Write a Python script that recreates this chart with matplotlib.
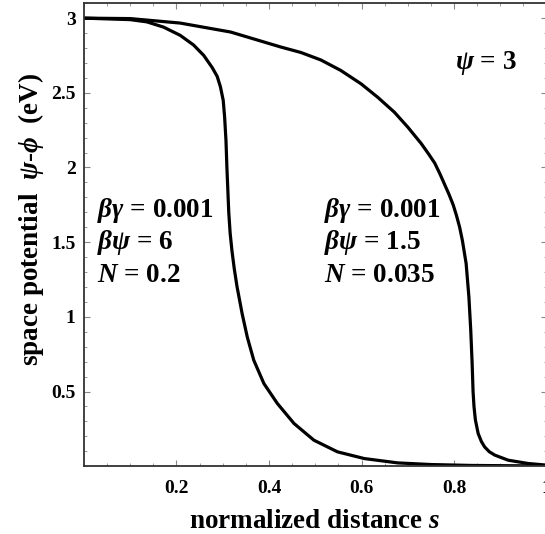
import matplotlib
matplotlib.use('Agg')
import matplotlib.pyplot as plt
from matplotlib.ticker import MultipleLocator

plt.rcParams['font.family'] = 'Liberation Serif'
plt.rcParams['font.weight'] = 'bold'
plt.rcParams['mathtext.fontset'] = 'custom'
plt.rcParams['mathtext.rm'] = 'Liberation Serif:bold'
plt.rcParams['mathtext.it'] = 'Liberation Serif:italic:bold'
plt.rcParams['mathtext.bf'] = 'Liberation Serif:bold'

# curve for beta*psi = 6, N = 0.2
s_a = [0, 0.1, 0.136, 0.172, 0.208, 0.237, 0.259, 0.277, 0.288, 0.295, 0.301, 0.304,
       0.307, 0.309, 0.311, 0.313, 0.316, 0.320, 0.325, 0.331, 0.342, 0.353, 0.367,
       0.389, 0.418, 0.454, 0.497, 0.548, 0.606, 0.678, 0.75, 0.837, 0.92, 1.0]
v_a = [3.0, 2.99, 2.975, 2.94, 2.885, 2.82, 2.75, 2.67, 2.61, 2.54, 2.45, 2.34,
       2.18, 2.0, 1.85, 1.70, 1.56, 1.44, 1.32, 1.20, 1.02, 0.865, 0.71,
       0.553, 0.42, 0.286, 0.174, 0.096, 0.051, 0.022, 0.011, 0.005, 0.003, 0.002]

# curve for beta*psi = 1.5, N = 0.035
s_b = [0, 0.1, 0.208, 0.317, 0.425, 0.469, 0.512, 0.555, 0.599, 0.635, 0.671, 0.70,
       0.729, 0.745, 0.758, 0.769, 0.779, 0.789, 0.798, 0.805, 0.812, 0.818, 0.826,
       0.832, 0.836, 0.839, 0.841, 0.843, 0.846, 0.852, 0.859, 0.866, 0.876, 0.888,
       0.917, 0.96, 1.0]
v_b = [3.0, 2.997, 2.967, 2.907, 2.807, 2.77, 2.72, 2.65, 2.56, 2.47, 2.37, 2.27,
       2.16, 2.09, 2.03, 1.96, 1.89, 1.82, 1.75, 1.68, 1.60, 1.51, 1.357,
       1.133, 0.91, 0.687, 0.50, 0.40, 0.31, 0.219, 0.165, 0.129, 0.097, 0.074,
       0.04, 0.018, 0.007]

xticks = [0.2, 0.4, 0.6, 0.8, 1.0]
xticklabels = ['0.2', '0.4', '0.6', '0.8', '1']
yticks = [0.5, 1, 1.5, 2, 2.5, 3]
yticklabels = ['0.5', '1', '1.5', '2', '2.5', '3']

fig = plt.figure(figsize=(5.45, 5.34), dpi=100)
ax = fig.add_axes([0.154, 0.127, 0.849, 0.867])

ax.plot(s_a, v_a, color='black', lw=2.3, solid_joinstyle='round')
ax.plot(s_b, v_b, color='black', lw=2.3, solid_joinstyle='round')

ax.set_xlim(0, 1)
ax.set_ylim(0, 3.1)
ax.set_xticks(xticks)
ax.set_xticklabels(xticklabels)
ax.set_yticks(yticks)
ax.set_yticklabels(yticklabels)
ax.xaxis.set_minor_locator(MultipleLocator(0.05))
ax.yaxis.set_minor_locator(MultipleLocator(0.1))
ax.tick_params(which='both', direction='in', top=True, right=True, color='#888888')
ax.tick_params(which='major', length=4, width=0.8, labelsize=14, pad=6)
ax.tick_params(axis='x', which='major', pad=10)
ax.tick_params(which='minor', length=2, width=0.6)
for sp in ax.spines.values():
    sp.set_linewidth(1.3)
    sp.set_color('#333333')

fig.text(0.5775, 6.0 / 534, r'normalized distance $s$', fontsize=19.5,
         fontweight='bold', ha='center', va='baseline')
fig.text(31.0 / 545, 1 - 219.0 / 534, r'space potential  $\psi$-$\phi$  (eV)',
         fontsize=19.5, fontweight='bold', rotation=90, ha='center', va='center')

fs = 19.5
ax.text(0.803, 2.70, r'$\psi$ = 3', fontsize=fs, va='center', ha='left')
ax.text(0.028, 1.715, r'$\beta\gamma$ = 0.001', fontsize=fs, va='center', ha='left')
ax.text(0.028, 1.50, r'$\beta\psi$ = 6', fontsize=fs, va='center', ha='left')
ax.text(0.028, 1.28, r'$N$ = 0.2', fontsize=fs, va='center', ha='left')
ax.text(0.518, 1.715, r'$\beta\gamma$ = 0.001', fontsize=fs, va='center', ha='left')
ax.text(0.518, 1.50, r'$\beta\psi$ = 1.5', fontsize=fs, va='center', ha='left')
ax.text(0.518, 1.28, r'$N$ = 0.035', fontsize=fs, va='center', ha='left')

fig.savefig('out.png', dpi=100)
